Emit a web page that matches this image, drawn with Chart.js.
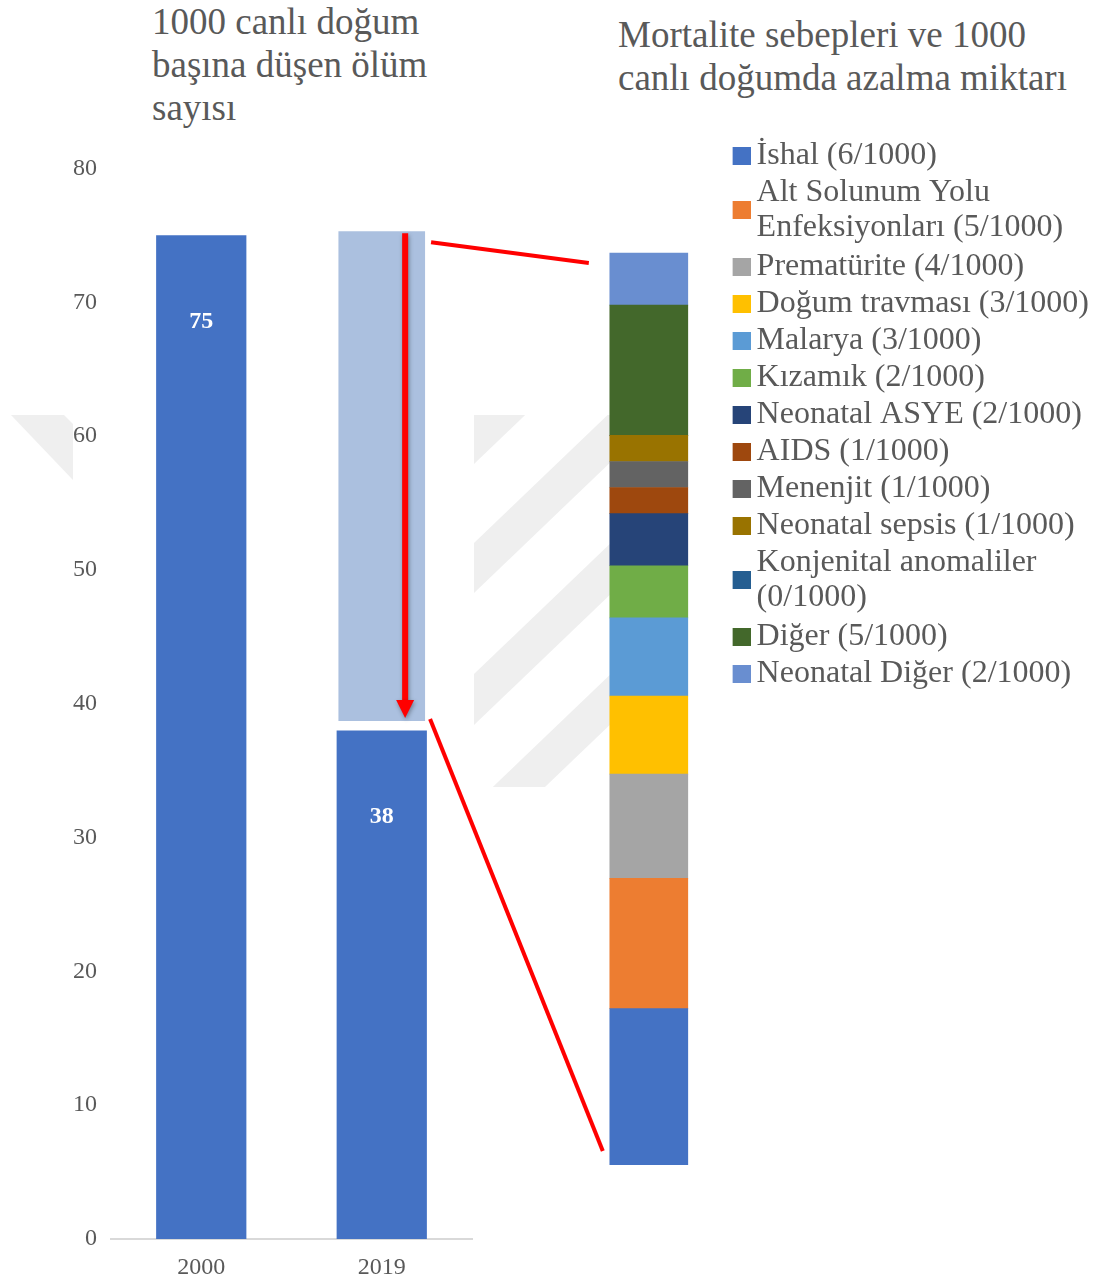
<!DOCTYPE html>
<html lang="tr">
<head>
<meta charset="utf-8">
<title>Mortalite</title>
<script src="https://cdn.jsdelivr.net/npm/chart.js@4.4.1/dist/chart.umd.min.js"></script>
<style>
    html, body { margin: 0; padding: 0; background: #fff; overflow: hidden; }
    body { width: 1099px; height: 1283px; position: relative; font-family: "Liberation Serif", serif; }
    .title { position: absolute; color: #595959; font-size: 37px; line-height: 43px; white-space: nowrap; }
    #title-left { left: 152px; top: 0px; }
    #title-right { left: 618px; top: 13px; }
    #watermark { position: absolute; left: 0; top: 0; }
    #left { position: absolute; left: 0; top: 140px; }
    #right { position: absolute; left: 580px; top: 135px; }
    #overlay { position: absolute; left: 0; top: 0; pointer-events: none; }
</style>
</head>
<body>
<!-- faint thesis watermark showing through behind the charts -->
<svg id="watermark" width="1099" height="1283">
    <defs>
        <clipPath id="wm-clip"><rect x="474" y="415" width="136" height="372"/></clipPath>
    </defs>
    <polygon points="11,415 64,415 73,424 73,480" fill="#efefef"/>
    <g clip-path="url(#wm-clip)" fill="#efefef">
        <polygon points="474,412 904,0 904,52 474,464"/>
        <polygon points="474,543 904,131 904,181 474,593"/>
        <polygon points="474,674 904,262 904,313 474,725"/>
        <polygon points="474,805 904,393 904,443 474,855"/>
    </g>
</svg>
<div class="title" id="title-left">1000 canlı doğum<br>başına düşen ölüm<br>sayısı</div>
<div class="title" id="title-right">Mortalite sebepleri ve 1000<br>canlı doğumda azalma miktarı</div>
<canvas id="left" width="480" height="1143"></canvas>
<canvas id="right" width="519" height="1030"></canvas>
<canvas id="overlay" width="1099" height="1283"></canvas>
<script>
// Left chart: deaths per 1000 live births
const years = ['2000', '2019'];
const deathsPer1000 = [75, 38];
// the drop from 2000 to 2019, shown as a pale floating bar over 2019
const declineRange = [null, [38.7, 75.3]];

// Right chart: causes and reduction per 1000 live births (bottom to top)
const causeLabels = [
    'İshal (6/1000)',
    ['Alt Solunum Yolu', 'Enfeksiyonları (5/1000)'],
    'Prematürite (4/1000)',
    'Doğum travması (3/1000)',
    'Malarya (3/1000)',
    'Kızamık (2/1000)',
    'Neonatal ASYE (2/1000)',
    'AIDS (1/1000)',
    'Menenjit (1/1000)',
    'Neonatal sepsis (1/1000)',
    ['Konjenital anomaliler', '(0/1000)'],
    'Diğer (5/1000)',
    'Neonatal Diğer (2/1000)'
];
const causeValues = [6, 5, 4, 3, 3, 2, 2, 1, 1, 1, 0, 5, 2];
const causeColors = [
    '#4472C4', '#ED7D31', '#A5A5A5', '#FFC000', '#5B9BD5', '#70AD47', '#264478',
    '#9E480E', '#636363', '#997300', '#255E91', '#43682B', '#698ED0'
];

const textColor = '#595959';
const serif = 'Liberation Serif';
const legendFont = { family: serif, size: 32, lineHeight: 1.078 };

// legend swatch: square sits close to the text, and between the lines
// of a two-line label (the default box hugs the first line)
function makeSwatch(color, lineCount) {
    const size = 18;
    const c = document.createElement('canvas');
    const drop = (lineCount - 1) * legendFont.size * legendFont.lineHeight / 2;
    c.width = 38;
    c.height = Math.round(size + 2 * drop);
    const g = c.getContext('2d');
    g.fillStyle = color;
    g.fillRect(c.width - size, c.height - size, size, size);
    return c;
}

// white value labels inside the solid bars
const barLabels = {
    id: 'barLabels',
    afterDatasetsDraw(chart) {
        const ctx = chart.ctx;
        const meta = chart.getDatasetMeta(0);
        ctx.save();
        ctx.fillStyle = '#fff';
        ctx.font = `bold 24px "${serif}"`;
        ctx.textAlign = 'center';
        ctx.textBaseline = 'middle';
        meta.data.forEach((bar, i) => {
            ctx.fillText(String(deathsPer1000[i]), bar.x, bar.y + 86);
        });
        ctx.restore();
    }
};

// red arrow inside the pale bar, top of the drop to its bottom
const dropArrow = {
    id: 'dropArrow',
    afterDatasetsDraw(chart) {
        const ctx = chart.ctx;
        const bar = chart.getDatasetMeta(1).data[1];
        const yScale = chart.scales.y;
        const x = bar.x + bar.width * 0.27;
        const yTop = yScale.getPixelForValue(declineRange[1][1]) + 2;
        const yTip = yScale.getPixelForValue(declineRange[1][0]) - 3;
        const head = 18;
        ctx.save();
        ctx.shadowColor = 'rgba(0,0,0,0.35)';
        ctx.shadowBlur = 4;
        ctx.shadowOffsetX = 1;
        ctx.shadowOffsetY = 2;
        ctx.strokeStyle = '#ff0000';
        ctx.fillStyle = '#ff0000';
        ctx.lineWidth = 6;
        ctx.beginPath();
        ctx.moveTo(x, yTop);
        ctx.lineTo(x, yTip - head + 2);
        ctx.stroke();
        ctx.beginPath();
        ctx.moveTo(x - 9, yTip - head);
        ctx.lineTo(x + 9, yTip - head);
        ctx.lineTo(x, yTip);
        ctx.closePath();
        ctx.fill();
        ctx.restore();
    }
};

const leftChart = new Chart(document.getElementById('left'), {
    type: 'bar',
    data: {
        labels: years,
        datasets: [
            {
                label: 'Ölüm sayısı',
                data: deathsPer1000,
                backgroundColor: '#4472C4',
                grouped: false,
                barPercentage: 0.5,
                categoryPercentage: 1,
            },
            {
                label: 'Azalma',
                data: declineRange,
                backgroundColor: '#ABC0DF',
                grouped: false,
                barPercentage: 0.48,
                categoryPercentage: 1,
            }
        ]
    },
    options: {
        responsive: false,
        animation: false,
        layout: { padding: { top: 18, right: 8, left: 0, bottom: 0 } },
        plugins: {
            legend: { display: false },
            tooltip: { enabled: false }
        },
        scales: {
            x: {
                grid: { display: false, drawTicks: false },
                border: { display: true, color: '#d9d9d9', width: 2 },
                ticks: { color: textColor, font: { family: serif, size: 24 }, padding: 14 },
                afterFit: (scale) => { scale.height = 44; }
            },
            y: {
                min: 0,
                max: 80,
                grid: { display: false, drawTicks: false },
                border: { display: false },
                ticks: { stepSize: 10, color: textColor, font: { family: serif, size: 24 }, padding: 14 },
                afterFit: (scale) => { scale.width = 111; }
            }
        }
    },
    plugins: [barLabels, dropArrow]
});

const rightChart = new Chart(document.getElementById('right'), {
    type: 'bar',
    data: {
        labels: ['2000-2019'],
        datasets: causeLabels.map((label, i) => ({
            label: label,
            data: [causeValues[i]],
            backgroundColor: causeColors[i],
            barThickness: 78,
        }))
    },
    options: {
        responsive: false,
        animation: false,
        plugins: {
            legend: {
                position: 'right',
                align: 'start',
                maxWidth: 420,
                labels: {
                    boxWidth: 18,
                    boxHeight: 18,
                    padding: 5,
                    usePointStyle: true,
                    color: textColor,
                    font: legendFont,
                    generateLabels(chart) {
                        const items = Chart.defaults.plugins.legend.labels.generateLabels(chart);
                        items.forEach((item) => {
                            const lines = Array.isArray(item.text) ? item.text.length : 1;
                            item.pointStyle = makeSwatch(causeColors[item.datasetIndex], lines);
                        });
                        return items;
                    }
                }
            },
            tooltip: { enabled: false }
        },
        scales: {
            x: { display: false, stacked: true },
            y: { display: false, stacked: true, min: 0, max: 39.53 }
        }
    }
});

// red lines linking the pale drop bar to the stacked causes bar
function drawLinks() {
    const ov = document.getElementById('overlay');
    const ctx = ov.getContext('2d');
    const lc = leftChart.canvas, rc = rightChart.canvas;
    const pale = leftChart.getDatasetMeta(1).data[1];
    const paleRight = lc.offsetLeft + pale.x + pale.width / 2;
    const paleTop = lc.offsetTop + pale.y;
    const paleBottom = lc.offsetTop + pale.base;

    const first = rightChart.getDatasetMeta(0).data[0];
    const total = causeValues.reduce((a, b) => a + b, 0);
    const stackLeft = rc.offsetLeft + first.x - first.width / 2;
    const stackTop = rc.offsetTop + rightChart.scales.y.getPixelForValue(total);
    const stackBottom = rc.offsetTop + rightChart.scales.y.getPixelForValue(0);

    ctx.strokeStyle = '#ff0000';
    ctx.lineWidth = 4;
    ctx.beginPath();
    ctx.moveTo(paleRight + 6, paleTop + 11);
    ctx.lineTo(stackLeft - 21, stackTop + 10);
    ctx.stroke();
    ctx.beginPath();
    ctx.moveTo(paleRight + 5, paleBottom - 2);
    ctx.lineTo(stackLeft - 7, stackBottom - 14);
    ctx.stroke();
}
drawLinks();
</script>
</body>
</html>
